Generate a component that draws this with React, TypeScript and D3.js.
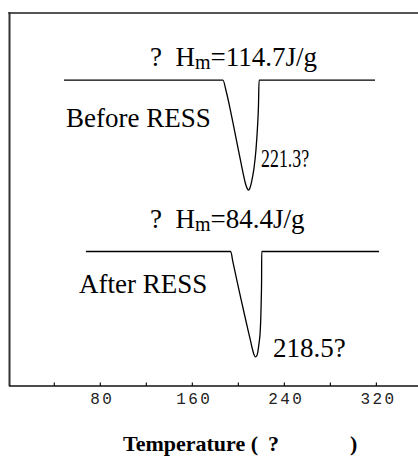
import React from "react";
import * as d3 from "d3";

// ---- data ----
const tickValues = [40, 80, 120, 160, 200, 240, 280, 320];
const tickLabels = ["", "80", "", "160", "", "240", "", "320"];

// Before RESS DSC trace: temperature (°C) and heat flow (arb. units)
const beforeT = [48.4, 186.6, 189.2, 192.7, 196.2, 199.7, 202.3, 204.1, 205.8, 207.5, 208.8, 210.1, 211.8, 213.6, 215.3, 216.6, 217.5, 218.0, 318.8];
const beforeH = [82.0, 82.0, 79.3, 74.5, 69.2, 63.8, 59.8, 57.1, 54.7, 53.1, 52.5, 53.1, 55.2, 58.4, 63.3, 69.2, 75.3, 82.0, 82.0];

// After RESS DSC trace
const afterT = [67.5, 193.3, 195.3, 198.8, 202.3, 205.8, 208.4, 210.6, 212.3, 213.6, 214.7, 215.8, 216.9, 217.9, 218.9, 219.5, 219.9, 220.2, 220.3, 322.3];
const afterH = [36.06, 36.06, 33.2, 28.2, 23.3, 18.5, 15.0, 12.1, 9.8, 8.4, 7.8, 8.0, 9.1, 11.3, 14.2, 18.2, 23.1, 28.4, 36.06, 36.06];

const W = 418;
const H = 465;

export default function App() {
  const x = d3.scaleLinear().domain([0, 356]).range([8.3, 8.3 + 356 * 1.1503]);
  const y = d3.scaleLinear().domain([0, 100]).range([386, 13]);
  const line = d3
    .line<[number, number]>()
    .x((d) => x(d[0]))
    .y((d) => y(d[1]))
    .curve(d3.curveMonotoneX);

  const before: [number, number][] = beforeT.map((t, i) => [t, beforeH[i]]);
  const after: [number, number][] = afterT.map((t, i) => [t, afterH[i]]);

  const serif = "'Liberation Serif', 'Times New Roman', serif";
  const x0 = x(0);

  return (
    <svg
      width={W}
      height={H}
      style={{ position: "absolute", left: 0, top: 0, background: "#fff" }}
    >
      {/* frame */}
      <line x1={x0} x2={W} y1={13} y2={13} stroke="#555" strokeWidth={2} />
      <line x1={9.5} x2={9.5} y1={12} y2={386} stroke="#333" strokeWidth={2} />
      <line x1={9} x2={W} y1={386} y2={386} stroke="#111" strokeWidth={1.5} />

      {/* ticks */}
      {tickValues.map((v, i) => (
        <g key={v}>
          <line x1={x(v)} x2={x(v)} y1={382.5} y2={386} stroke="#111" strokeWidth={1.2} />
          {tickLabels[i] && (
            <text
              x={x(v) + 2}
              y={404}
              textAnchor="middle"
              fontFamily="'Liberation Mono', 'DejaVu Sans Mono', monospace"
              fontSize={16}
              letterSpacing={2.4}
              fill="#222"
            >
              {tickLabels[i]}
            </text>
          )}
        </g>
      ))}

      {/* curves */}
      <path d={line(before) || ""} fill="none" stroke="#000" strokeWidth={1.3} />
      <path d={line(after) || ""} fill="none" stroke="#000" strokeWidth={1.3} />

      {/* annotations */}
      <text x={150} y={66} fontFamily={serif} fontSize={27} fill="#000" xmlSpace="preserve">
        <tspan>?  H</tspan>
        <tspan fontSize={20} dy={3}>m</tspan>
        <tspan dy={-3}>=114.7J/g</tspan>
      </text>
      <text x={66} y={127} fontFamily={serif} fontSize={27} fill="#000">
        Before RESS
      </text>
      <text
        x={x(218.0) + 2}
        y={167}
        fontFamily={serif}
        fontSize={26}
        fill="#000"
        textLength={48}
        lengthAdjust="spacingAndGlyphs"
      >
        221.3?
      </text>

      <text x={150} y={228} fontFamily={serif} fontSize={27} fill="#000" xmlSpace="preserve">
        <tspan>?  H</tspan>
        <tspan fontSize={20} dy={3}>m</tspan>
        <tspan dy={-3}>=84.4J/g</tspan>
      </text>
      <text x={79} y={293} fontFamily={serif} fontSize={27} fill="#000">
        After RESS
      </text>
      <text x={273} y={357} fontFamily={serif} fontSize={27} fill="#000">
        218.5?
      </text>

      {/* axis title */}
      <text y={451} fontFamily={serif} fontSize={22} fontWeight="bold" fill="#000">
        <tspan x={123}>Temperature (</tspan>
        <tspan x={268}>?</tspan>
        <tspan x={350}>)</tspan>
      </text>
    </svg>
  );
}
